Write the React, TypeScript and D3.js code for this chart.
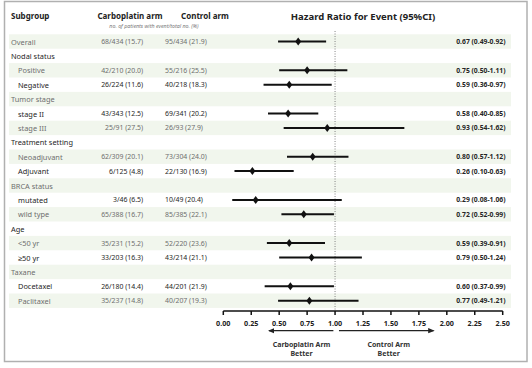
import React from "react";
import * as d3 from "d3";

const labels = ["Overall", "Nodal status", "Positive", "Negative", "Tumor stage", "stage II", "stage III", "Treatment setting", "Neoadjuvant", "Adjuvant", "BRCA status", "mutated", "wild type", "Age", "<50 yr", "\u226550 yr", "Taxane", "Docetaxel", "Paclitaxel"];
const isTopLevel = [true, true, false, false, true, false, false, true, false, false, true, false, false, true, false, false, true, false, false];
const carboText = ["68/434 (15.7)", "", "42/210 (20.0)", "26/224 (11.6)", "", "43/343 (12.5)", "25/91 (27.5)", "", "62/309 (20.1)", "6/125 (4.8)", "", "3/46 (6.5)", "65/388 (16.7)", "", "35/231 (15.2)", "33/203 (16.3)", "", "26/180 (14.4)", "35/237 (14.8)"];
const controlText = ["95/434 (21.9)", "", "55/216 (25.5)", "40/218 (18.3)", "", "69/341 (20.2)", "26/93 (27.9)", "", "73/304 (24.0)", "22/130 (16.9)", "", "10/49 (20.4)", "85/385 (22.1)", "", "52/220 (23.6)", "43/214 (21.1)", "", "44/201 (21.9)", "40/207 (19.3)"];
const hr: (number | null)[] = [0.67, null, 0.75, 0.59, null, 0.58, 0.93, null, 0.80, 0.26, null, 0.29, 0.72, null, 0.59, 0.79, null, 0.60, 0.77];
const lo: (number | null)[] = [0.49, null, 0.50, 0.36, null, 0.40, 0.54, null, 0.57, 0.10, null, 0.08, 0.52, null, 0.39, 0.50, null, 0.37, 0.49];
const hi: (number | null)[] = [0.92, null, 1.11, 0.97, null, 0.85, 1.62, null, 1.12, 0.63, null, 1.06, 0.99, null, 0.91, 1.24, null, 0.99, 1.21];
const ticks = [0, 0.25, 0.5, 0.75, 1.0, 1.25, 1.5, 1.75, 2.0, 2.25, 2.5];

const FONT = "'Noto Sans', sans-serif";

export default function App() {
  const W = 532, H = 368;
  const x = d3.scaleLinear().domain([0, 2.5]).range([223.3, 502.7]);
  const y = d3.scaleBand<number>().domain(labels.map((_, i) => i)).range([34.3, 34.3 + 14.4 * labels.length]).padding(0);
  const bw = y.bandwidth();
  const axisY = 311;
  const fmt = (v: number) => v.toFixed(2);

  return (
    <svg width={W} height={H} style={{ position: "absolute", left: 0, top: 0, background: "#fff" }} fontFamily={FONT}>
      <defs>
        <marker id="ah" viewBox="0 0 10 10" refX="8" refY="5" markerWidth="5" markerHeight="5" orient="auto-start-reverse">
          <path d="M0,1 L10,5 L0,9 Z" fill="#222" />
        </marker>
      </defs>
      <rect x={4.5} y={1.5} width={522.5} height={360} fill="#fff" stroke="#b0b0b0" strokeWidth={1.5} />
      {labels.map((_, i) => i % 2 === 0 ? (
        <rect key={"bg" + i} x={9} y={y(i)!} width={502} height={bw} fill="#f1f6ed" />
      ) : null)}
      {/* headers */}
      <text x={11} y={19} fontSize={8} fontWeight="bold" fill="#222">Subgroup</text>
      <text x={130} y={19} fontSize={8} fontWeight="bold" fill="#222" textAnchor="middle">Carboplatin arm</text>
      <text x={205} y={19} fontSize={8} fontWeight="bold" fill="#222" textAnchor="middle">Control arm</text>
      <text x={154} y={28} fontSize={5.3} fontStyle="italic" fill="#777" textAnchor="middle">no. of patients with event/total no. (%)</text>
      <text x={363} y={19.5} fontSize={9.5} fontWeight="bold" fill="#222" textAnchor="middle">Hazard Ratio for Event (95%CI)</text>
      {/* reference line */}
      <line x1={x(1)} x2={x(1)} y1={31} y2={axisY} stroke="#666" strokeWidth={0.8} strokeDasharray="1,1.5" />
      {labels.map((lab, i) => {
        const cy = y(i)! + bw / 2;
        const col = i % 2 === 0 ? "#6e6e6e" : "#262626";
        return (
          <g key={"r" + i}>
            <text x={isTopLevel[i] ? 11 : 18} y={cy} dominantBaseline="central" fontSize={7.4} fill={col}>{lab}</text>
            <text x={143} y={cy} dominantBaseline="central" fontSize={6.9} fill={col} textAnchor="end">{carboText[i]}</text>
            <text x={165} y={cy} dominantBaseline="central" fontSize={6.9} fill={col}>{controlText[i]}</text>
            {hr[i] !== null && (
              <g>
                <line x1={x(lo[i]!)} x2={x(hi[i]!)} y1={cy} y2={cy} stroke="#111" strokeWidth={2} />
                <path d={`M${x(hr[i]!)},${cy - 4}L${x(hr[i]!) + 3},${cy}L${x(hr[i]!)},${cy + 4}L${x(hr[i]!) - 3},${cy}Z`} fill="#111" />
                <text x={505.5} y={cy} dominantBaseline="central" fontSize={6.8} fontWeight="bold" fill="#262626" textAnchor="end">
                  {`${fmt(hr[i]!)} (${fmt(lo[i]!)}-${fmt(hi[i]!)})`}
                </text>
              </g>
            )}
          </g>
        );
      })}
      {/* axis */}
      <line x1={x(0)} x2={x(2.5)} y1={axisY} y2={axisY} stroke="#111" strokeWidth={1.5} />
      {ticks.map((t) => (
        <g key={"t" + t}>
          <line x1={x(t)} x2={x(t)} y1={axisY} y2={axisY + 4} stroke="#111" strokeWidth={1.5} />
          <text x={x(t)} y={axisY + 12} fontSize={7.2} fontWeight="bold" fill="#222" textAnchor="middle" dominantBaseline="central">{fmt(t)}</text>
        </g>
      ))}
      {/* arrows */}
      <line x1={x(0.985)} x2={x(0.41)} y1={330.7} y2={330.7} stroke="#222" strokeWidth={1.3} markerEnd="url(#ah)" />
      <line x1={x(1.035)} x2={x(1.88)} y1={330.7} y2={330.7} stroke="#222" strokeWidth={1.3} markerEnd="url(#ah)" />
      <text x={x(0.7)} y={344} fontSize={7} fontWeight="bold" fill="#333" textAnchor="middle" dominantBaseline="central">Carboplatin Arm</text>
      <text x={x(0.7)} y={353} fontSize={7} fontWeight="bold" fill="#333" textAnchor="middle" dominantBaseline="central">Better</text>
      <text x={x(1.48)} y={344} fontSize={7} fontWeight="bold" fill="#333" textAnchor="middle" dominantBaseline="central">Control Arm</text>
      <text x={x(1.48)} y={353} fontSize={7} fontWeight="bold" fill="#333" textAnchor="middle" dominantBaseline="central">Better</text>
    </svg>
  );
}
